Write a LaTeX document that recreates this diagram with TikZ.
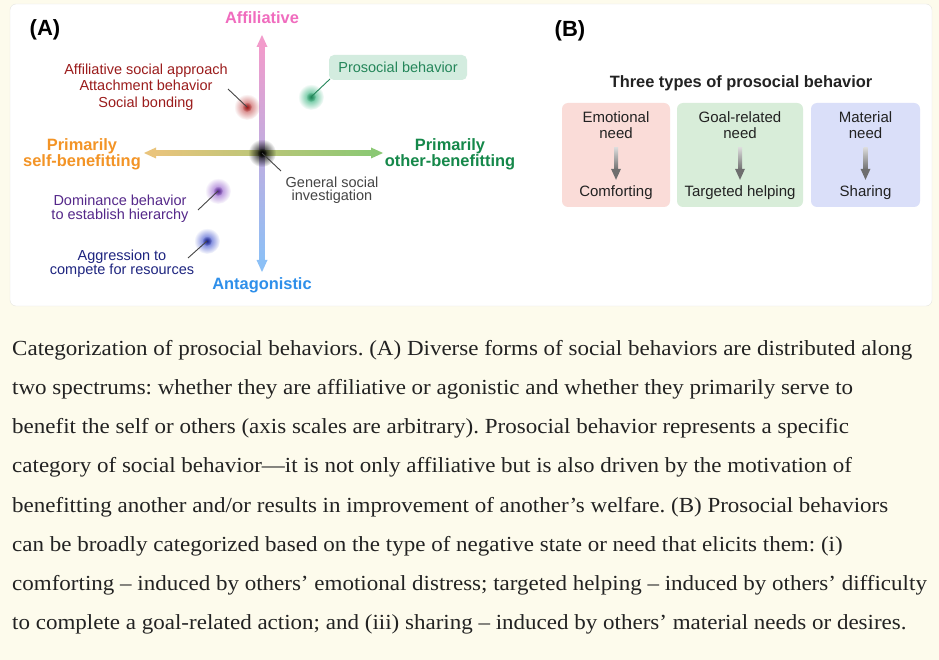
\documentclass[tikz,border=0pt]{standalone}
\usepackage{fontspec}
\setmainfont{Liberation Sans}
\newfontfamily\capfont[FakeStretch=1.07]{Liberation Serif}
\usetikzlibrary{fadings}

\definecolor{cream}{HTML}{FDFBEC}
\definecolor{panelgray}{HTML}{E6E6E0}
\definecolor{affpink}{HTML}{F06CBE}
\definecolor{axpink}{HTML}{F29BCB}
\definecolor{axlav}{HTML}{C3AAE2}
\definecolor{axblue}{HTML}{8CC0F6}
\definecolor{antblue}{HTML}{2E8FEA}
\definecolor{selforange}{HTML}{F39426}
\definecolor{axorange}{HTML}{E9C47C}
\definecolor{axgreen}{HTML}{8BC874}
\definecolor{othergreen}{HTML}{15884A}
\definecolor{redtxt}{HTML}{9B1C1C}
\definecolor{purtxt}{HTML}{55288A}
\definecolor{bluetxt}{HTML}{1E2580}
\definecolor{graytxt}{HTML}{454545}
\definecolor{prosgreen}{HTML}{24865A}
\definecolor{prosbox}{HTML}{D3ECDF}
\definecolor{pinkbox}{HTML}{FADCD8}
\definecolor{greenbox}{HTML}{D8EDD9}
\definecolor{bluebox}{HTML}{DADFF9}
\definecolor{arrlight}{HTML}{DADADA}
\definecolor{arrdark}{HTML}{6E6E6E}
\definecolor{captxt}{HTML}{222222}
\definecolor{redblob}{HTML}{C85A5A}
\definecolor{greenblob}{HTML}{3FB784}
\definecolor{purblob}{HTML}{9C6BD0}
\definecolor{blueblob}{HTML}{4A5BD0}

\tikzfading[name=fuzzy, inner color=transparent!0, outer color=transparent!100]

\begin{document}
\frenchspacing
\begin{tikzpicture}[x=1pt,y=-1pt]
\tikzset{every node/.style={inner sep=0pt,align=center}}
\tikzset{lab/.style={font=\fontsize{14.5}{13}\selectfont}}
\tikzset{axlab/.style={font=\fontsize{16.4}{15}\selectfont\bfseries}}
\tikzset{panellab/.style={font=\fontsize{22}{22}\selectfont\bfseries}}
\tikzset{lead/.style={draw=graytxt,line width=0.9pt}}
\tikzset{blob/.style={path fading=fuzzy}}
\tikzset{typebox/.style={rounded corners=6pt,minimum height=104pt}}
\tikzset{typelab/.style={font=\fontsize{15}{16}\selectfont,text=captxt}}
\tikzset{capline/.style={anchor=base west,text=captxt,font=\capfont\fontsize{21.5}{24}\selectfont}}

\fill[cream] (0,0) rectangle (939,660);
\filldraw[fill=white,draw=panelgray,rounded corners=6pt] (10,4) rectangle (932,306);

% (A)
\node[panellab] (A) at (45,30) {(A)};
\coordinate (O) at (262,153);
\coordinate (vtop) at (262,35);
\coordinate (vbot) at (262,272);
\coordinate (hleft) at (144,153);
\coordinate (hright) at (383,153);
\shade[top color=axpink,middle color=axlav,bottom color=axblue] ([shift={(-2.5,10)}]vtop) rectangle ([shift={(2.5,-10)}]vbot);
\shade[left color=axorange,right color=axgreen] ([shift={(10,-2.5)}]hleft) rectangle ([shift={(-10,2.5)}]hright);
\fill[axpink] (vtop) -- ([shift={(-5.5,12)}]vtop) -- ([shift={(5.5,12)}]vtop) -- cycle;
\fill[axblue] (vbot) -- ([shift={(-5.5,-12)}]vbot) -- ([shift={(5.5,-12)}]vbot) -- cycle;
\fill[axorange] (hleft) -- ([shift={(12,-5.5)}]hleft) -- ([shift={(12,5.5)}]hleft) -- cycle;
\fill[axgreen] (hright) -- ([shift={(-12,-5.5)}]hright) -- ([shift={(-12,5.5)}]hright) -- cycle;

\node[axlab,text=affpink] (aff) at (262,18) {Affiliative};
\node[axlab,text=antblue] (ant) at (262,285) {Antagonistic};
\node[axlab,text=selforange] (self) at (82,154) {Primarily\\self-benefitting};
\node[axlab,text=othergreen] (other) at (450,154) {Primarily\\other-benefitting};

\node[lab,text=redtxt,font=\fontsize{14.5}{16.5}\selectfont] (bond) at (146,87) {Affiliative social approach\\Attachment behavior\\Social bonding};
\node[lab,text=purtxt,font=\fontsize{14.5}{14}\selectfont] (dom) at (120,209) {Dominance behavior\\to establish hierarchy};
\node[lab,text=bluetxt] (agg) at (122,264) {Aggression to\\compete for resources};
\node[lab,text=graytxt] (gen) at (332,190) {General social\\investigation};
\node[lab,text=prosgreen,fill=prosbox,rounded corners=5pt,minimum width=138pt,minimum height=25pt] (pros) at (398,67.5) {Prosocial behavior};

\coordinate (rb) at (247,107);
\coordinate (gb) at (311,97);
\coordinate (pb) at (218,191);
\coordinate (bb) at (207,241);
\coordinate (rbl) at (228,89);
\coordinate (gbl) at (330,79);
\coordinate (pbl) at (198,210);
\coordinate (bbl) at (188,258);
\coordinate (genl) at (281,171);

\fill[redblob,blob] (rb) circle (13);
\fill[redtxt,blob] (rb) circle (5);
\fill[greenblob,blob] (gb) circle (13);
\fill[prosgreen,blob] (gb) circle (5);
\fill[purblob,blob] (pb) circle (13);
\fill[purtxt,blob] (pb) circle (5);
\fill[blueblob,blob] (bb) circle (13);
\fill[bluetxt,blob] (bb) circle (5);
\fill[black,blob] (O) circle (14);
\fill[black,blob] (O) circle (5);

\draw[lead] (rbl) -- (rb);
\draw[lead,draw=prosgreen] (gbl) -- (gb);
\draw[lead] (pbl) -- (pb);
\draw[lead] (bbl) -- (bb);
\draw[lead] (genl) -- (O);

% (B)
\node[panellab] (B) at (570,31) {(B)};
\node[axlab,text=captxt] (title) at (741,83) {Three types of prosocial behavior};
\node[typebox,fill=pinkbox,minimum width=108pt] (emo) at (616,155) {};
\node[typebox,fill=greenbox,minimum width=126pt] (goal) at (740,155) {};
\node[typebox,fill=bluebox,minimum width=109pt] (mat) at (865.5,155) {};
\node[typelab] (emoneed) at (616,125) {Emotional\\need};
\node[typelab] (goalneed) at (740,125) {Goal-related\\need};
\node[typelab] (matneed) at (865.5,125) {Material\\need};
\node[typelab] (comf) at (616,193) {Comforting};
\node[typelab] (help) at (740,193) {Targeted helping};
\node[typelab] (share) at (865.5,193) {Sharing};
\foreach \n/\m in {emoneed/comf,goalneed/help,matneed/share}{
  \shade[top color=arrlight,bottom color=arrdark] ([shift={(-2,9)}]\n.south) rectangle ([shift={(2,-16)}]\m.north);
  \fill[arrdark] ([shift={(0,-6)}]\m.north) -- ([shift={(-5,-17)}]\m.north) -- ([shift={(5,-17)}]\m.north) -- cycle;
}

% caption
\node[capline] (c1) at (12,355) {Categorization of prosocial behaviors. (A) Diverse forms of social behaviors are distributed along};
\node[capline] (c2) at (12,394) {two spectrums: whether they are affiliative or agonistic and whether they primarily serve to};
\node[capline] (c3) at (12,433) {benefit the self or others (axis scales are arbitrary). Prosocial behavior represents a specific};
\node[capline] (c4) at (12,472) {category of social behavior—it is not only affiliative but is also driven by the motivation of};
\node[capline] (c5) at (12,512) {benefitting another and/or results in improvement of another’s welfare. (B) Prosocial behaviors};
\node[capline] (c6) at (12,551) {can be broadly categorized based on the type of negative state or need that elicits them: (i)};
\node[capline] (c7) at (12,590) {comforting – induced by others’ emotional distress; targeted helping – induced by others’ difficulty};
\node[capline] (c8) at (12,629) {to complete a goal-related action; and (iii) sharing – induced by others’ material needs or desires.};
\end{tikzpicture}
\end{document}
